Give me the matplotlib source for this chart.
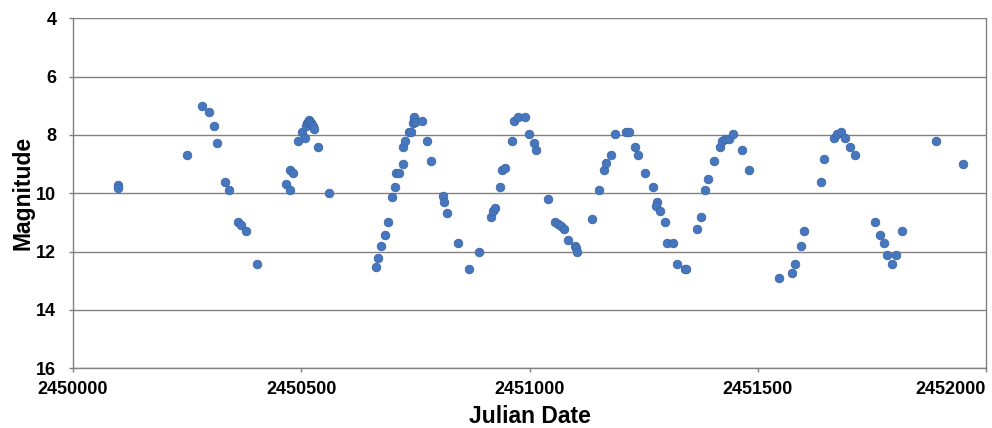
import matplotlib
matplotlib.use("Agg")
import matplotlib.pyplot as plt

plt.rcParams['font.family'] = ['Liberation Sans', 'DejaVu Sans']

julian_date = [
    2450099, 2450099, 2450250, 2450283, 2450299, 2450308, 2450316, 2450332, 2450342,
    2450362, 2450369, 2450378, 2450403,
    2450466, 2450476, 2450475, 2450483, 2450492, 2450501, 2450508,
    2450511, 2450513, 2450515, 2450517, 2450519, 2450521, 2450523, 2450526, 2450528,
    2450536, 2450560,
    2450663, 2450668, 2450675, 2450683, 2450689, 2450699, 2450706, 2450708, 2450715,
    2450722, 2450722, 2450728, 2450735, 2450741, 2450744, 2450746, 2450748, 2450750,
    2450765, 2450776, 2450785, 2450811, 2450813, 2450820, 2450843, 2450867, 2450889,
    2450916, 2450921, 2450924, 2450936, 2450940, 2450947, 2450961, 2450966, 2450974,
    2450990, 2450999, 2451010, 2451015, 2451040, 2451056, 2451063, 2451069, 2451076,
    2451084, 2451099, 2451101, 2451104, 2451136, 2451152, 2451163, 2451168, 2451179,
    2451187, 2451211, 2451217, 2451232, 2451238, 2451252, 2451271, 2451280, 2451278,
    2451285, 2451297, 2451302, 2451315, 2451324, 2451340, 2451343, 2451367, 2451376,
    2451384, 2451392, 2451405, 2451417, 2451422, 2451429, 2451438, 2451445, 2451465,
    2451480, 2451546, 2451575, 2451581, 2451595, 2451601, 2451638, 2451645, 2451668,
    2451673, 2451682, 2451692, 2451701, 2451712, 2451757, 2451768, 2451776, 2451784,
    2451793, 2451803, 2451817, 2451891, 2451950,
]
magnitude = [
    9.70, 9.83, 8.69, 7.00, 7.21, 7.69, 8.29, 9.60, 9.90,
    10.98, 11.10, 11.30, 12.41,
    9.68, 9.90, 9.20, 9.30, 8.20, 7.91, 8.11,
    7.70, 7.60, 7.55, 7.50, 7.55, 7.60, 7.65, 7.70, 7.80,
    8.41, 9.99,
    12.52, 12.21, 11.81, 11.42, 10.99, 10.12, 9.80, 9.30, 9.30,
    8.99, 8.41, 8.20, 7.91, 7.91, 7.60, 7.45, 7.40, 7.55,
    7.51, 8.20, 8.90, 10.10, 10.31, 10.69, 11.71, 12.60, 12.00,
    10.81, 10.60, 10.49, 9.80, 9.20, 9.12, 8.20, 7.51, 7.37,
    7.37, 7.98, 8.28, 8.50, 10.20, 10.99, 11.05, 11.12, 11.21,
    11.60, 11.80, 11.86, 12.00, 10.89, 9.90, 9.20, 8.97, 8.69,
    7.98, 7.91, 7.91, 8.41, 8.69, 9.29, 9.80, 10.29, 10.43,
    10.60, 10.99, 11.71, 11.71, 12.41, 12.60, 12.60, 11.21, 10.81,
    9.90, 9.51, 8.90, 8.41, 8.20, 8.13, 8.13, 7.98, 8.50,
    9.20, 12.90, 12.72, 12.41, 11.81, 11.30, 9.60, 8.81, 8.11,
    7.98, 7.90, 8.11, 8.41, 8.69, 10.99, 11.42, 11.71, 12.11,
    12.41, 12.11, 11.30, 8.20, 8.99,
]
x_ticks = [2450000, 2450500, 2451000, 2451500, 2452000]
y_ticks = [4, 6, 8, 10, 12, 14, 16]
x_label = "Julian Date"
y_label = "Magnitude"

fig = plt.figure(figsize=(9.92, 4.28), dpi=100)
ax = fig.add_axes([73 / 992, 1 - 368.3 / 428, (986 - 73) / 992, (368.3 - 18.3) / 428])

grid_color = "#808080"
ax.set_xlim(x_ticks[0], x_ticks[-1])
ax.set_ylim(y_ticks[-1], y_ticks[0])
ax.set_xticks(x_ticks)
ax.set_yticks(y_ticks)
ax.set_xticklabels([str(t) for t in x_ticks])
ax.set_yticklabels([str(t) for t in y_ticks])
ax.yaxis.grid(True, color=grid_color, linewidth=1.0)
ax.set_axisbelow(True)

for side in ["left", "bottom", "right"]:
    ax.spines[side].set_color(grid_color)
    ax.spines[side].set_linewidth(1.0)
ax.spines["top"].set_visible(False)

ax.tick_params(axis="both", direction="out", length=3, width=1, color=grid_color,
               labelsize=13, labelcolor="black")
ax.tick_params(axis="y", pad=9)
ax.tick_params(axis="x", pad=6)
for lab in ax.get_xticklabels() + ax.get_yticklabels():
    lab.set_fontweight("bold")
ax.get_xticklabels()[-1].set_horizontalalignment("right")

ax.scatter(julian_date, magnitude, s=38, color="#4677BE", edgecolors="#3B67A8",
           linewidths=0.6, zorder=3, clip_on=False)

ax.set_xlabel(x_label, fontsize=16.5, fontweight="bold", labelpad=5)
ax.set_ylabel(y_label, fontsize=16.5, fontweight="bold", labelpad=1)

fig.savefig("out.png", dpi=100)
